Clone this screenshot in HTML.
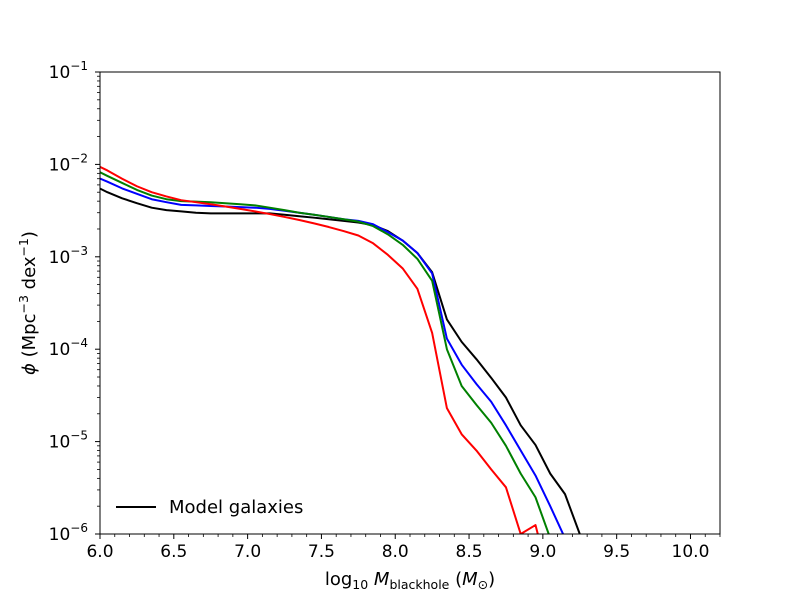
<!DOCTYPE html>
<html><head><meta charset="utf-8"><style>
body{margin:0;background:#fff}
svg text{font-family:"DejaVu Sans","Liberation Sans",sans-serif;fill:#000}
</style></head><body>
<svg id="chart" width="800" height="600" xmlns="http://www.w3.org/2000/svg">
<rect width="800" height="600" fill="#fff"/>
<defs><clipPath id="clip"><rect x="100" y="72" width="620" height="462"/></clipPath></defs>
<g id="plot" clip-path="url(#clip)"></g>
<g id="axes"></g>
</svg>
<script>
const xs=[5.95,6.05,6.15,6.25,6.35,6.45,6.55,6.65,6.75,6.85,6.95,7.05,7.15,7.25,7.35,7.45,7.55,7.65,7.75,7.85,7.95,8.05,8.15,8.25,8.35,8.45,8.55,8.65,8.75,8.85,8.95,9.05,9.15,9.25,9.35];
const black=[6.0e-3,5.0e-3,4.3e-3,3.8e-3,3.4e-3,3.2e-3,3.1e-3,3.0e-3,2.95e-3,2.95e-3,2.95e-3,2.95e-3,2.95e-3,2.85e-3,2.75e-3,2.65e-3,2.55e-3,2.45e-3,2.35e-3,2.2e-3,1.9e-3,1.5e-3,1.1e-3,6.8e-4,2.1e-4,1.2e-4,7.8e-5,4.9e-5,3.0e-5,1.5e-5,9.2e-6,4.5e-6,2.7e-6,1.0e-6,3e-7];
const blue=[7.6e-3,6.5e-3,5.5e-3,4.8e-3,4.2e-3,3.9e-3,3.65e-3,3.6e-3,3.55e-3,3.5e-3,3.45e-3,3.4e-3,3.3e-3,3.15e-3,3.0e-3,2.85e-3,2.7e-3,2.55e-3,2.45e-3,2.25e-3,1.85e-3,1.5e-3,1.1e-3,6.6e-4,1.3e-4,6.8e-5,4.2e-5,2.7e-5,1.5e-5,8e-6,4.3e-6,2.0e-6,0.9e-6,3e-7,null];
const green=[9.0e-3,7.5e-3,6.3e-3,5.3e-3,4.6e-3,4.2e-3,4.0e-3,3.95e-3,3.9e-3,3.8e-3,3.7e-3,3.6e-3,3.4e-3,3.2e-3,3.0e-3,2.85e-3,2.7e-3,2.55e-3,2.4e-3,2.15e-3,1.75e-3,1.35e-3,0.95e-3,5.5e-4,1.0e-4,4.0e-5,2.5e-5,1.6e-5,9e-6,4.5e-6,2.5e-6,0.9e-6,3e-7,null,null];
const red=[10.3e-3,8.6e-3,7.0e-3,5.8e-3,5.0e-3,4.5e-3,4.1e-3,3.9e-3,3.7e-3,3.5e-3,3.3e-3,3.1e-3,2.9e-3,2.7e-3,2.5e-3,2.3e-3,2.1e-3,1.9e-3,1.7e-3,1.4e-3,1.05e-3,7.5e-4,4.5e-4,1.5e-4,2.3e-5,1.2e-5,8e-6,5e-6,3.2e-6,1.0e-6,1.25e-6,3e-7,null,null,null];
const xTicks=[6.0,6.5,7.0,7.5,8.0,8.5,9.0,9.5,10.0];
const yExps=[-6,-5,-4,-3,-2,-1];
const NS="http://www.w3.org/2000/svg";
const X=v=>100+(v-6)*620/4.2;
const Y=v=>72+(-1-Math.log10(v))*462/5;
function el(t,a,p){const e=document.createElementNS(NS,t);for(const k in a)e.setAttribute(k,a[k]);p.appendChild(e);return e;}
const plot=document.getElementById('plot'),axes=document.getElementById('axes');
[[black,'#000','series-black'],[blue,'#0000ff','series-blue'],[green,'#008000','series-green'],[red,'#ff0000','series-red']].forEach(([arr,c,n])=>{
 let d='';arr.forEach((v,i)=>{if(v==null)return;d+=(d?'L':'M')+X(xs[i]).toFixed(2)+','+Y(v).toFixed(2);});
 const p=el('path',{d:d,fill:'none',stroke:c,'stroke-width':2,'stroke-linejoin':'round'},plot);
 
 
});
const fr=el('rect',{x:100,y:72,width:620,height:462,fill:'none',stroke:'#000','stroke-width':1},axes);


for(let k=0;k<=42;k++){const v=6+k*0.1,x=X(v);const major=(k%5===0);
 el('line',{x1:x,x2:x,y1:534,y2:534+(major?5:3),stroke:'#000','stroke-width':major?1:0.8},axes);}
xTicks.forEach(v=>{const t=el('text',{x:X(v),y:557,'font-size':17,'text-anchor':'middle'},axes);t.textContent=v.toFixed(1);
 
 });
yExps.forEach(e=>{const y=Y(Math.pow(10,e));
 el('line',{x1:95,x2:100,y1:y,y2:y,stroke:'#000'},axes);
 const t=el('text',{x:88,y:y+6,'font-size':17,'text-anchor':'end'},axes);
 t.innerHTML='10<tspan dy="-8" font-size="12">−'+(-e)+'</tspan>';
 
 
 if(e<-1)for(let m=2;m<=9;m++){const yy=Y(m*Math.pow(10,e));el('line',{x1:97,x2:100,y1:yy,y2:yy,stroke:'#000','stroke-width':0.8},axes);}
});
</script>
<svg style="position:absolute;left:0;top:0" width="800" height="600" xmlns="http://www.w3.org/2000/svg">
<g>
<line x1="116" x2="156" y1="507" y2="507" stroke="#000" stroke-width="2"/>
<text x="169" y="513" font-size="18" font-family="DejaVu Sans,Liberation Sans,sans-serif">Model galaxies</text>
</g>
<text x="410" y="585" font-size="18" text-anchor="middle" font-family="DejaVu Sans,Liberation Sans,sans-serif">log<tspan font-size="12.5" dy="4">10</tspan><tspan dy="-4" font-style="italic"> M</tspan><tspan font-size="12.5" dy="4">blackhole</tspan><tspan dy="-4"> (</tspan><tspan font-style="italic">M</tspan><tspan font-size="12.5" dy="4">⊙</tspan><tspan dy="-4">)</tspan></text>
<text transform="translate(35,303) rotate(-90)" font-size="18" text-anchor="middle" font-family="DejaVu Sans,Liberation Sans,sans-serif"><tspan font-style="italic">ϕ</tspan> (Mpc<tspan font-size="12.5" dy="-7">−3</tspan><tspan dy="7"> dex</tspan><tspan font-size="12.5" dy="-7">−1</tspan><tspan dy="7">)</tspan></text>
</svg>
</body></html>
